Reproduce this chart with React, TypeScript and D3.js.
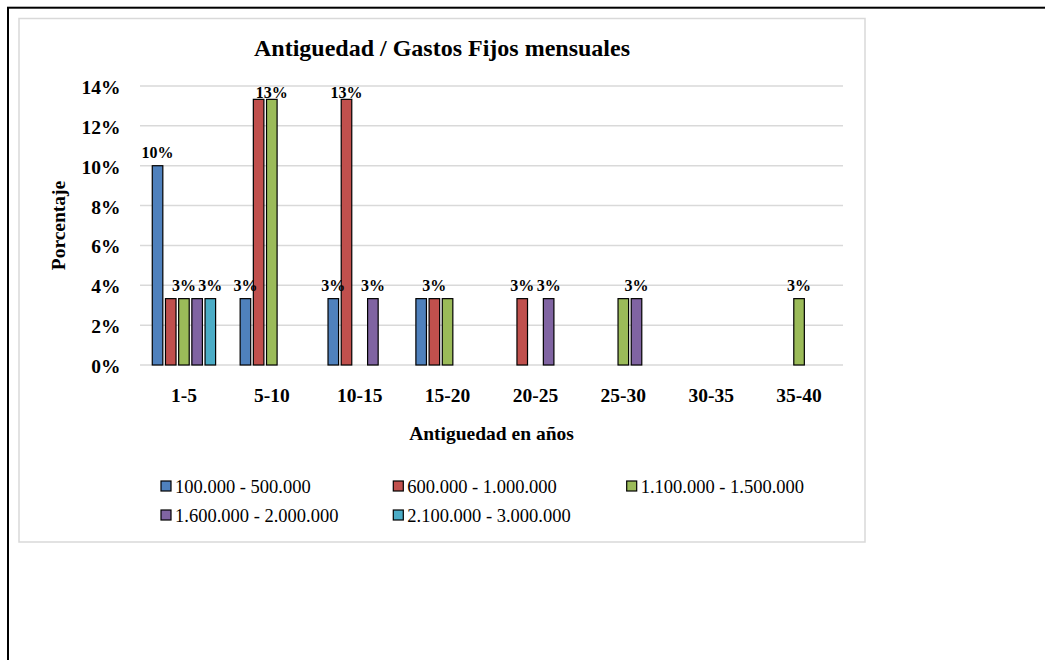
import React from "react";
import * as d3 from "d3";

// Age brackets (years of seniority)
const categories = ["1-5", "5-10", "10-15", "15-20", "20-25", "25-30", "30-35", "35-40"];

// Monthly fixed-expense brackets
const seriesNames = [
  "100.000 - 500.000",
  "600.000 - 1.000.000",
  "1.100.000 - 1.500.000",
  "1.600.000 - 2.000.000",
  "2.100.000 - 3.000.000",
];

// Percentage of respondents per bracket, one array per series (order matches categories)
const s100_500 = [10, 3.33, 3.33, 3.33, 0, 0, 0, 0];
const s600_1000 = [3.33, 13.33, 13.33, 3.33, 3.33, 0, 0, 0];
const s1100_1500 = [3.33, 13.33, 0, 3.33, 0, 3.33, 0, 3.33];
const s1600_2000 = [3.33, 0, 3.33, 0, 3.33, 3.33, 0, 0];
const s2100_3000 = [3.33, 0, 0, 0, 0, 0, 0, 0];
const seriesValues = [s100_500, s600_1000, s1100_1500, s1600_2000, s2100_3000];

const seriesColors = ["#4f81bd", "#c0504d", "#9bbb59", "#8064a2", "#4bacc6"];

// Bars that carry a value label: [series index, category]
const labeledPoints: [number, string][] = [
  [0, "1-5"], [2, "1-5"], [4, "1-5"],
  [0, "5-10"], [2, "5-10"],
  [0, "10-15"], [1, "10-15"], [3, "10-15"],
  [1, "15-20"],
  [1, "20-25"], [3, "20-25"],
  [3, "25-30"],
  [2, "35-40"],
];

const yTicks = [0, 2, 4, 6, 8, 10, 12, 14];

const FONT = "'Liberation Serif', 'Times New Roman', serif";

export default function App() {
  const W = 1045;
  const H = 660;
  const plot = { left: 140, right: 843, top: 86, bottom: 365 };

  const x0 = d3.scaleBand<string>().domain(categories).range([plot.left, plot.right]).padding(0);
  const x1 = d3
    .scaleBand<number>()
    .domain(d3.range(seriesNames.length))
    .range([0, x0.bandwidth()])
    .paddingInner(0.2)
    .paddingOuter(0.93);
  const y = d3.scaleLinear().domain([0, 14]).range([plot.bottom, plot.top]);

  const legendCols = [161, 393.3, 626.7];
  const legendRows = [486, 515];

  return (
    <svg
      width={W}
      height={H}
      style={{ position: "absolute", left: 0, top: 0, background: "#fff" }}
      fontFamily={FONT}
    >
      {/* outer frame */}
      <rect x={8} y={7.7} width={W + 20} height={H + 20} fill="none" stroke="#000" strokeWidth={2} />
      {/* chart area */}
      <rect x={19} y={18.5} width={846} height={523.5} fill="#fff" stroke="#d9d9d9" strokeWidth={1.5} />

      <text x={442} y={56} textAnchor="middle" fontSize={24} fontWeight="bold">
        Antiguedad / Gastos Fijos mensuales
      </text>

      {/* gridlines */}
      {yTicks.map((t) => (
        <line
          key={"g" + t}
          x1={plot.left}
          x2={plot.right}
          y1={y(t)}
          y2={y(t)}
          stroke="#d9d9d9"
          strokeWidth={1.5}
        />
      ))}

      {/* y tick labels */}
      {yTicks.map((t) => (
        <text key={"yt" + t} x={120.5} y={y(t) + 8} textAnchor="end" fontSize={19.5} fontWeight="bold">
          {t + "%"}
        </text>
      ))}

      {/* bars */}
      {categories.map((c, ci) => (
        <g key={c} transform={`translate(${x0(c)},0)`}>
          {seriesValues.map((vals, si) =>
            vals[ci] > 0 ? (
              <rect
                key={si}
                x={x1(si)}
                y={y(vals[ci])}
                width={x1.bandwidth()}
                height={y(0) - y(vals[ci])}
                fill={seriesColors[si]}
                stroke="#000"
                strokeWidth={1.2}
              />
            ) : null
          )}
        </g>
      ))}

      {/* value labels */}
      {labeledPoints.map(([si, c]) => {
        const ci = categories.indexOf(c);
        const v = seriesValues[si][ci];
        const cx = (x0(c) as number) + (x1(si) as number) + x1.bandwidth() / 2;
        const by = Math.max(y(v) - 7.5, plot.top + 12);
        return (
          <text key={si + c} x={cx} y={by} textAnchor="middle" fontSize={16} fontWeight="bold">
            {Math.round(v) + "%"}
          </text>
        );
      })}

      {/* x tick labels */}
      {categories.map((c) => (
        <text
          key={"xt" + c}
          x={(x0(c) as number) + x0.bandwidth() / 2}
          y={401.5}
          textAnchor="middle"
          fontSize={19.5}
          fontWeight="bold"
        >
          {c}
        </text>
      ))}

      {/* axis titles */}
      <text x={(plot.left + plot.right) / 2} y={440} textAnchor="middle" fontSize={19.5} fontWeight="bold">
        Antiguedad en años
      </text>
      <text
        transform={`translate(65,${(plot.top + plot.bottom) / 2}) rotate(-90)`}
        textAnchor="middle"
        fontSize={19.5}
        fontWeight="bold"
      >
        Porcentaje
      </text>

      {/* legend */}
      {seriesNames.map((name, i) => {
        const lx = legendCols[i % 3];
        const ly = legendRows[Math.floor(i / 3)];
        return (
          <g key={name}>
            <rect x={lx} y={ly - 5} width={10} height={10} fill={seriesColors[i]} stroke="#000" strokeWidth={1.2} />
            <text x={lx + 14} y={ly + 6.5} fontSize={18.5}>
              {name}
            </text>
          </g>
        );
      })}
    </svg>
  );
}
